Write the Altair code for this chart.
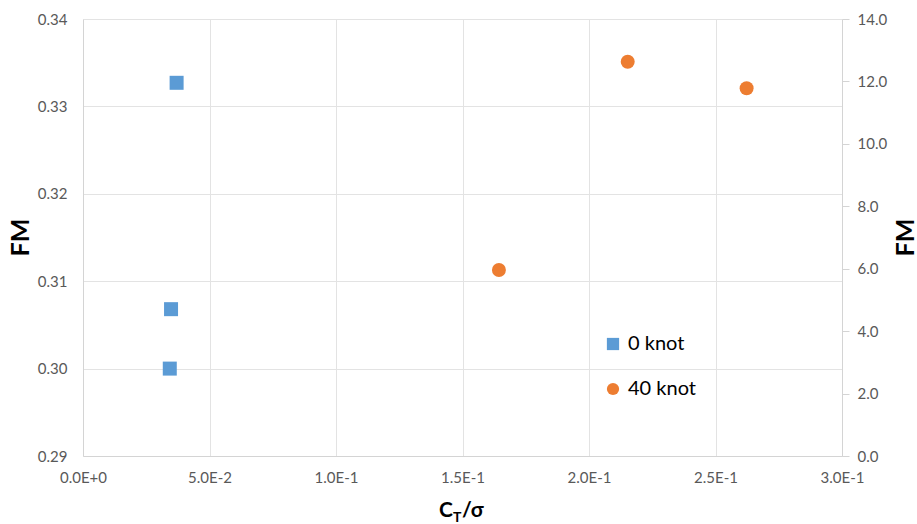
import altair as alt
import pandas as pd

# Figure of merit vs blade loading, hover (0 knot) and forward flight (40 knot)
series_names = ["0 knot", "40 knot"]

hover_ct_sigma = [0.0370, 0.0348, 0.0343]
hover_fm = [0.3327, 0.3068, 0.3000]

fwd_ct_sigma = [0.1644, 0.2153, 0.2623]
fwd_fm = [5.96, 12.63, 11.78]

x_tick_values = [0.0, 0.05, 0.10, 0.15, 0.20, 0.25, 0.30]
x_tick_labels = ["0.0E+0", "5.0E-2", "1.0E-1", "1.5E-1", "2.0E-1", "2.5E-1", "3.0E-1"]
left_tick_values = [0.29, 0.30, 0.31, 0.32, 0.33, 0.34]
right_tick_values = [0.0, 2.0, 4.0, 6.0, 8.0, 10.0, 12.0, 14.0]

hover = pd.DataFrame({"ct": hover_ct_sigma, "fm": hover_fm, "series": series_names[0]})
fwd = pd.DataFrame({"ct": fwd_ct_sigma, "fm": fwd_fm, "series": series_names[1]})

FONT = "Lato"
LABEL_GREY = "#595959"
GRID = "#e3e3e3"
DOMAIN = "#d4d4d4"
BLUE = "#5B9BD5"
ORANGE = "#ED7D31"

# scientific-notation tick labels
label_expr = ""
for v, lab in zip(x_tick_values, x_tick_labels):
    label_expr += f"abs(datum.value - {v}) < 1e-9 ? '{lab}' : "
label_expr += "''"

x_enc = alt.X(
    "ct:Q",
    scale=alt.Scale(domain=[0, 0.3], nice=False, zero=False),
    axis=alt.Axis(
        values=x_tick_values,
        labelExpr=label_expr,
        labelFlush=False,
        title="",
        grid=True,
        gridColor=GRID,
        domainColor=DOMAIN,
        ticks=False,
        labelPadding=14,
        labelFont=FONT,
        labelFontSize=15,
        labelColor=LABEL_GREY,
    ),
)

legend_style = dict(
    title=None,
    orient="none",
    legendX=520,
    legendY=315,
    padding=0,
    rowPadding=25,
    symbolSize=150,
    symbolStrokeWidth=0,
    labelFont=FONT,
    labelFontSize=20,
    labelColor="#000000",
    labelOffset=5,
)

color_enc = alt.Color(
    "series:N",
    scale=alt.Scale(domain=series_names, range=[BLUE, ORANGE]),
    legend=alt.Legend(**legend_style),
)
shape_enc = alt.Shape(
    "series:N",
    scale=alt.Scale(domain=series_names, range=["square", "circle"]),
    legend=alt.Legend(**legend_style),
)

title_axis = dict(
    titleFont=FONT,
    titleFontSize=25,
    titleFontWeight="bold",
    titleColor="#000000",
    titleAngle=270,
    titleAlign="center",
    titleBaseline="middle",
    titleY=218,
)

left = alt.Chart(hover).mark_point(filled=True, size=196, opacity=1).encode(
    x=x_enc,
    y=alt.Y(
        "fm:Q",
        scale=alt.Scale(domain=[0.29, 0.34], nice=False, zero=False),
        axis=alt.Axis(
            orient="left",
            values=left_tick_values,
            format=".2f",
            title="FM",
            titleX=-63,
            grid=True,
            gridColor=GRID,
            domainColor=DOMAIN,
            ticks=False,
            labelPadding=16,
            labelFont=FONT,
            labelFontSize=15,
            labelColor=LABEL_GREY,
            **title_axis,
        ),
    ),
    color=color_enc,
    shape=shape_enc,
)

right = alt.Chart(fwd).mark_point(filled=True, size=195, opacity=1).encode(
    x=x_enc,
    y=alt.Y(
        "fm:Q",
        scale=alt.Scale(domain=[0, 14], nice=False, zero=False),
        axis=alt.Axis(
            orient="right",
            values=right_tick_values,
            format=".1f",
            title="FM",
            titleX=63,
            grid=False,
            domainColor=DOMAIN,
            ticks=True,
            tickSize=7,
            tickColor=DOMAIN,
            labelPadding=8,
            labelFont=FONT,
            labelFontSize=15,
            labelColor=LABEL_GREY,
            **title_axis,
        ),
    ),
    color=color_enc,
    shape=shape_enc,
)

# x-axis title C_T/sigma built from pieces so the T can sit as a subscript
one_row = pd.DataFrame({"k": [0]})
title_c = alt.Chart(one_row).mark_text(
    text="C", font=FONT, fontSize=21, fontWeight="bold", align="left", baseline="alphabetic", color="#000000"
).encode(x=alt.value(356), y=alt.value(498))
title_t = alt.Chart(one_row).mark_text(
    text="T", font=FONT, fontSize=14, fontWeight="bold", align="left", baseline="alphabetic", color="#000000"
).encode(x=alt.value(370), y=alt.value(503))
title_rest = alt.Chart(one_row).mark_text(
    text="/σ", font=FONT, fontSize=21, fontWeight="bold", align="left", baseline="alphabetic", color="#000000"
).encode(x=alt.value(379), y=alt.value(498))

chart = (
    alt.layer(left, right, title_c, title_t, title_rest)
    .resolve_scale(y="independent")
    .properties(
        width=759,
        height=437,
        autosize=alt.AutoSizeParams(type="none"),
        padding={"left": 83, "top": 19, "right": 75, "bottom": 68},
        background="white",
    )
    .configure_view(strokeWidth=0)
)

chart.save("out.html", embed_options={"renderer": "svg", "actions": False})
